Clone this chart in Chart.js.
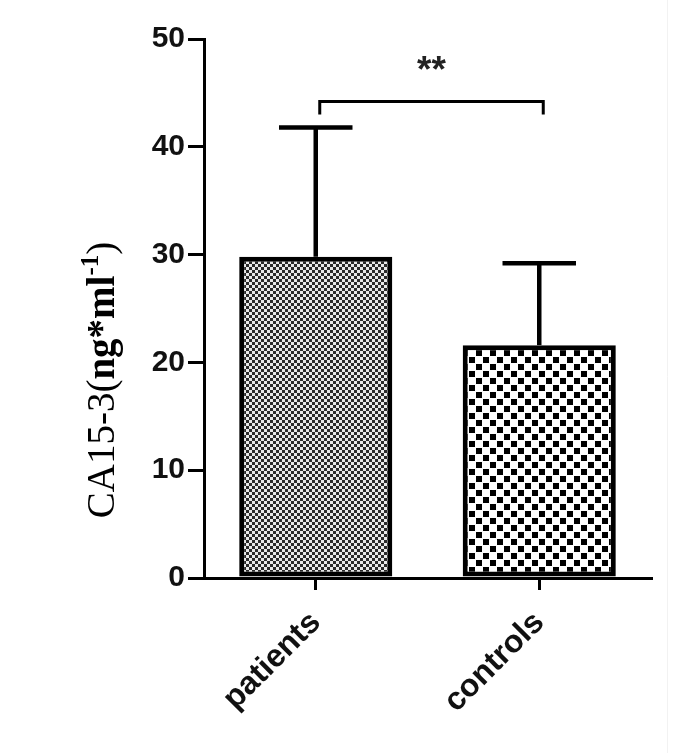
<!DOCTYPE html>
<html>
<head>
<meta charset="utf-8">
<script src="https://cdn.jsdelivr.net/npm/chart.js@4"></script>
<style>
  body { margin: 0; background: #fff; }
  canvas { display: block; }
</style>
</head>
<body>
<canvas id="myChart" width="684" height="753"></canvas>
<script>
// data
const categories = ['patients', 'controls'];
const means = [29.8, 21.6];
const errorTops = [41.8, 29.2];   // mean + SD
const yMin = 0;
const yMax = 50;
const yStep = 10;
const sigLabel = '**';
const bracketLevel = 44.2;
const bracketLegEnd = 43.0;
const sigLabelLevel = 47.0;

// checkered fills
function makeChecker(cell, dark, light, gap){
	let c = document.createElement('canvas');
	c.width = cell * 2;
	c.height = cell * 2;
	let g = c.getContext('2d');
	g.fillStyle = light;
	g.fillRect(0, 0, c.width, c.height);
	g.fillStyle = dark;
	g.fillRect(0, 0, cell - gap, cell - gap);
	g.fillRect(cell, cell, cell - gap, cell - gap);
	return g.createPattern(c, 'repeat');
}

var fineFill = makeChecker(3, '#2a2a2a', '#e8e8e8', 0);
var coarseFill = makeChecker(7, '#000000', '#ffffff', 1);

const errorBars = {
	id: 'errorBars',
	afterDatasetsDraw(chart){
		let ctx = chart.ctx;
		let y = chart.scales.y;
		let meta = chart.getDatasetMeta(0);
		ctx.save();
		ctx.strokeStyle = '#000';
		ctx.lineWidth = 4.5;
		ctx.lineCap = 'butt';
		for(let i=0; i<meta.data.length; i++){
			let bar = meta.data[i];
			let top = y.getPixelForValue(errorTops[i]);
			let half = bar.width * 0.24;
			ctx.beginPath();
			ctx.moveTo(bar.x, bar.y);
			ctx.lineTo(bar.x, top);
			ctx.stroke();
			ctx.beginPath();
			ctx.moveTo(bar.x - half, top);
			ctx.lineTo(bar.x + half, top);
			ctx.stroke();
		}
		// significance bracket
		let x0 = meta.data[0].x + 4;
		let x1 = meta.data[1].x + 4;
		let by = y.getPixelForValue(bracketLevel);
		let ly = y.getPixelForValue(bracketLegEnd);
		ctx.lineWidth = 3;
		ctx.beginPath();
		ctx.moveTo(x0, ly);
		ctx.lineTo(x0, by);
		ctx.lineTo(x1, by);
		ctx.lineTo(x1, ly);
		ctx.stroke();
		ctx.fillStyle = '#222';
		ctx.font = 'bold 37px "Liberation Sans", Arial, sans-serif';
		ctx.textAlign = 'center';
		ctx.textBaseline = 'middle';
		ctx.fillText(sigLabel, (x0 + x1) / 2, y.getPixelForValue(sigLabelLevel));
		ctx.restore();
	}
};

// y title with bold part and superscript
const yTitle = {
	id: 'yTitle',
	afterDraw(chart){
		let ctx = chart.ctx;
		let parts = [
			{t: 'CA15-3(', f: '39px "Liberation Serif", "Times New Roman", serif', dy: 0},
			{t: 'ng*ml', f: 'bold 39px "Liberation Serif", "Times New Roman", serif', dy: 0},
			{t: '-1', f: 'bold 25px "Liberation Serif", "Times New Roman", serif', dy: -16},
			{t: ')', f: '39px "Liberation Serif", "Times New Roman", serif', dy: 0}
		];
		ctx.save();
		let total = 0;
		for(let p of parts){ ctx.font = p.f; total += ctx.measureText(p.t).width; }
		ctx.translate(114, 380 + total / 2);
		ctx.rotate(-Math.PI / 2);
		ctx.fillStyle = '#000';
		ctx.textBaseline = 'alphabetic';
		ctx.textAlign = 'left';
		let x = 0;
		for(let p of parts){
			ctx.font = p.f;
			ctx.fillText(p.t, x, p.dy);
			x += ctx.measureText(p.t).width;
		}
		ctx.restore();
		// faint frame line at right edge
		ctx.save();
		ctx.strokeStyle = '#f2f2f2';
		ctx.lineWidth = 1;
		ctx.beginPath();
		ctx.moveTo(667.5, 0);
		ctx.lineTo(667.5, 753);
		ctx.stroke();
		ctx.restore();
	}
};

var ctx = document.getElementById('myChart');

var myChart = new Chart(ctx, {
	type: 'bar',
	data: {
		labels: categories,
		datasets: [{
			data: means,
			backgroundColor: [fineFill, coarseFill],
			borderColor: '#000',
			borderWidth: 5,
			borderSkipped: false,
			barPercentage: 0.685,
			categoryPercentage: 1
		}]
	},
	options: {
		responsive: false,
		animation: false,
		layout: {
			padding: {top: 39, right: 33, left: 0, bottom: 0}
		},
		plugins: {
			legend: {display: false},
			tooltip: {enabled: false}
		},
		scales: {
			x: {
				afterFit: function(scale){ scale.height = 175; },
				grid: {
					display: true,
					drawOnChartArea: false,
					drawTicks: true,
					offset: false,
					tickLength: 12,
					lineWidth: 3,
					color: '#000'
				},
				border: {display: true, width: 3, color: '#000'},
				ticks: {
					minRotation: 45,
					maxRotation: 45,
					padding: 14,
					color: '#111',
					font: {family: '"Liberation Sans", Arial, sans-serif', size: 32, weight: 'bold'}
				}
			},
			y: {
				min: yMin,
				max: yMax,
				afterFit: function(scale){ scale.width = 204; },
				grid: {
					display: true,
					drawOnChartArea: false,
					drawTicks: true,
					tickLength: 16,
					lineWidth: 3,
					color: '#000'
				},
				border: {display: true, width: 3, color: '#000'},
				ticks: {
					stepSize: yStep,
					padding: 3,
					color: '#111',
					font: {family: '"Liberation Sans", Arial, sans-serif', size: 30, weight: 'bold'}
				}
			}
		}
	},
	plugins: [errorBars, yTitle]
});
</script>
</body>
</html>
